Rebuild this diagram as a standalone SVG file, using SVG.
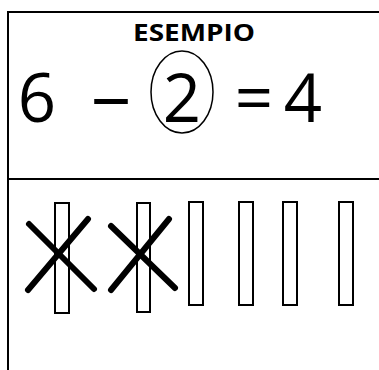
<svg xmlns="http://www.w3.org/2000/svg" width="379" height="370" viewBox="0 0 379 370">
<style>
.frame{stroke:#000;stroke-width:2;fill:none}
.bar{stroke:#000;stroke-width:2;fill:#fff}
.cross{stroke:#000;stroke-width:6;stroke-linecap:round}
.eq{font-family:"Open Sans","Liberation Sans",sans-serif;font-size:67px;fill:#000;text-anchor:middle}
.title{font-family:"Open Sans","Liberation Sans",sans-serif;font-size:24px;font-weight:bold;fill:#000;text-anchor:middle}
</style>
<rect width="379" height="370" fill="#fff"/>
<g id="frame">
<path class="frame" d="M8 370 V12 H379 M8 179 H379"/>
</g>
<g id="title">
<text class="title" x="194" y="41" textLength="122" lengthAdjust="spacingAndGlyphs">ESEMPIO</text>
</g>
<g id="equation">
<text class="eq" x="37" y="122">6</text>
<text class="eq" x="111" y="120" textLength="40" lengthAdjust="spacingAndGlyphs">–</text>
<text class="eq" x="182" y="122">2</text>
<ellipse cx="182" cy="92" rx="31" ry="41" fill="none" stroke="#000" stroke-width="1.5"/>
<text class="eq" x="254" y="122">=</text>
<text class="eq" x="303" y="122">4</text>
</g>
<g id="bars">
<rect class="bar" x="55" y="203" width="14" height="110"/>
<rect class="bar" x="137" y="203" width="13" height="109"/>
<rect class="bar" x="189" y="202" width="14" height="103"/>
<rect class="bar" x="239" y="202" width="14" height="103"/>
<rect class="bar" x="283" y="202" width="14" height="103"/>
<rect class="bar" x="339" y="202" width="14" height="103"/>
</g>
<g id="crosses">
<line class="cross" x1="28" y1="290" x2="88" y2="219"/>
<line class="cross" x1="29" y1="224" x2="94" y2="289"/>
<line class="cross" x1="111" y1="290" x2="169" y2="219"/>
<line class="cross" x1="111" y1="226" x2="175" y2="288"/>
</g>
</svg>
